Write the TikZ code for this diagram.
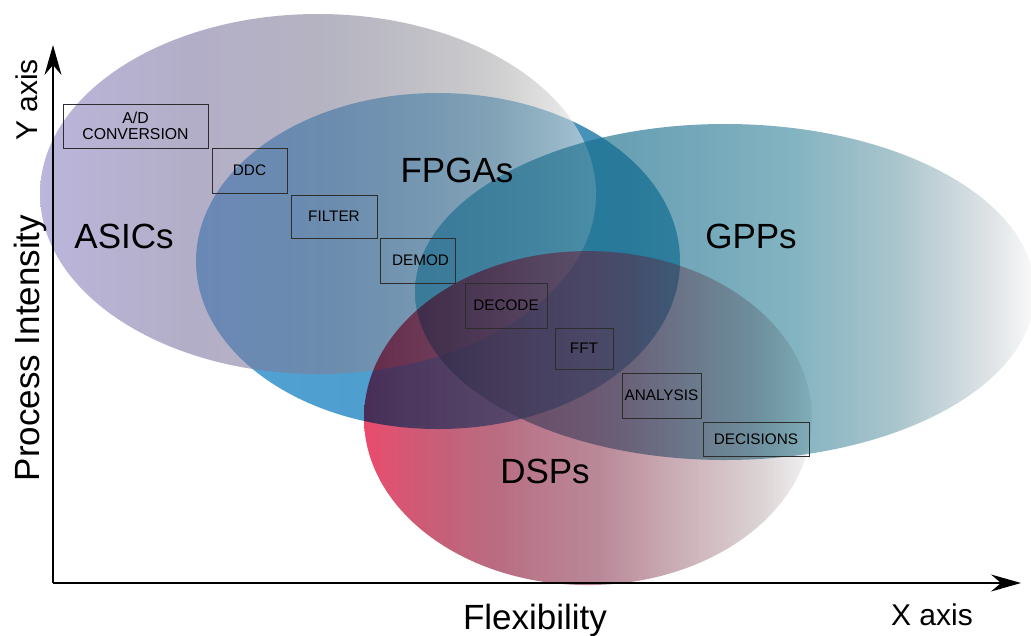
\documentclass[tikz,border=0pt]{standalone}
\usepackage{fontspec}
\setmainfont{Liberation Sans}
\usetikzlibrary{arrows.meta,fadings}

% ---- colour stops of the four technology regions ----
\definecolor{asA}{RGB}{138,130,195}
\definecolor{asB}{RGB}{125,116,160}
\definecolor{asC}{RGB}{128,126,150}
\definecolor{asD}{RGB}{150,150,160}
\definecolor{asE}{RGB}{172,172,174}
\definecolor{asF}{RGB}{205,205,205}
\definecolor{asG}{RGB}{240,240,240}

\definecolor{fpA}{RGB}{82,164,215}
\definecolor{fpB}{RGB}{76,156,202}
\definecolor{fpC}{RGB}{66,140,175}

\definecolor{gpA}{RGB}{28,108,142}
\definecolor{gpB}{RGB}{25,110,140}
\definecolor{gpC}{RGB}{40,120,148}
\definecolor{gpD}{RGB}{65,140,160}
\definecolor{gpE}{RGB}{122,165,177}
\definecolor{gpF}{RGB}{208,214,217}
\definecolor{gpG}{RGB}{248,248,248}

% DSP tint (multiplied) and its deep purple glaze (faded in the middle)
\definecolor{dsA}{RGB}{230,15,60}
\definecolor{dsB}{RGB}{215,80,110}
\definecolor{dsC}{RGB}{225,160,175}
\definecolor{dsD}{RGB}{235,215,220}
\definecolor{dsE}{RGB}{225,215,215}
\definecolor{dsF}{RGB}{215,210,210}
\definecolor{dsG}{RGB}{240,240,240}
\definecolor{dspdeep}{RGB}{120,30,60}

\definecolor{boxline}{RGB}{45,45,45}

% horizontal shadings: 25bp = left edge of the shape, 75bp = right edge
\pgfdeclarehorizontalshading{asicshade}{100bp}{color(0bp)=(asA); color(25bp)=(asA);
  color(38bp)=(asB); color(51bp)=(asC); color(60bp)=(asD); color(66bp)=(asE);
  color(71bp)=(asF); color(75bp)=(asG); color(100bp)=(asG)}
\pgfdeclarehorizontalshading{fpgashade}{100bp}{color(0bp)=(fpA); color(25bp)=(fpA);
  color(50bp)=(fpB); color(75bp)=(fpC); color(100bp)=(fpC)}
\pgfdeclarehorizontalshading{gppshade}{100bp}{color(0bp)=(gpA); color(25bp)=(gpA);
  color(41.5bp)=(gpB); color(47bp)=(gpC); color(55.5bp)=(gpD); color(63.5bp)=(gpE);
  color(71.5bp)=(gpF); color(75bp)=(gpG); color(100bp)=(gpG)}
\pgfdeclarehorizontalshading{dspshade}{100bp}{color(0bp)=(dsA); color(25bp)=(dsA);
  color(34.6bp)=(dsB); color(43.5bp)=(dsC); color(51.3bp)=(dsD); color(60.3bp)=(dsE);
  color(69.2bp)=(dsF); color(75bp)=(dsG); color(100bp)=(dsG)}
% opacity profile of the glaze: white = opaque, black = clear
\pgfdeclarehorizontalshading{dspglazeshade}{100bp}{color(0bp)=(black); color(25bp)=(black);
  color(31.25bp)=(white!20!black); color(40.2bp)=(white!40!black);
  color(51.3bp)=(white!45!black); color(60.3bp)=(white!25!black);
  color(69.2bp)=(white!5!black); color(75bp)=(black); color(100bp)=(black)}
% the fitted part of a fading is its central 50bp square
\pgfdeclarefading{dspglaze}{\tikz{\useasboundingbox (0,0) rectangle (100bp,100bp);
  \fill[black] (0,0) rectangle (100bp,100bp);
  \shade[shading=dspglazeshade] (25bp,25bp) rectangle (75bp,75bp);}}

\begin{document}
\begin{tikzpicture}[x=1pt, y=-1pt,
  procbox/.style={draw=boxline, line width=1pt, inner sep=0pt,
    font=\fontsize{15.3}{16}\selectfont},
  region/.style={font=\fontsize{35}{40}\selectfont, anchor=base, inner sep=0pt},
  axisname/.style={font=\fontsize{30}{34}\selectfont, anchor=base, inner sep=0pt},
  axisline/.style={line width=1.4pt, -{Stealth[length=30pt, width=17pt, inset=10pt]}}]

\useasboundingbox (0,0) rectangle (1031,635);
\fill[white] (0,0) rectangle (1031,635);

% FPGAs
\shade[shading=fpgashade] (438,261) ellipse [x radius=242, y radius=168];
% ASICs, translucent over the FPGA region
\shade[shading=asicshade, fill opacity=0.58] (318,194) ellipse [x radius=278, y radius=180];
% GPPs
\shade[shading=gppshade, fill opacity=0.65] (725,292) ellipse [x radius=310, y radius=168];
% DSPs: a multiplied tint plus a faded purple glaze
\begin{scope}[blend mode=multiply]
  \shade[shading=dspshade, fill opacity=0.75] (588,418) ellipse [x radius=224, y radius=167];
\end{scope}
\fill[dspdeep, path fading=dspglaze, fit fading=true] (588,418) ellipse [x radius=224, y radius=167];

% region names
\node[region] (asics) at (124,248) {ASICs};
\node[region] (fpgas) at (457,182) {FPGAs};
\node[region] (gpps)  at (751,248) {GPPs};
\node[region] (dsps)  at (545,483) {DSPs};

% processing chain
\node[procbox, minimum width=145pt, minimum height=44pt, align=center,
      font=\fontsize{15.8}{16}\selectfont] (ad) at (135.5,126) {A/D\\CONVERSION};
\node[procbox, minimum width=75pt, minimum height=45pt] (ddc) at (249.5,170.5) {DDC};
\node[procbox, minimum width=86pt, minimum height=43pt] (filter) at (334,216.5) {FILTER};
\node[procbox, minimum width=75pt, minimum height=45pt] (demod) at (417.5,260.5) {\hspace{6pt}DEMOD};
\node[procbox, minimum width=82pt, minimum height=45pt] (decode) at (506,305.5) {DECODE};
\node[procbox, minimum width=58pt, minimum height=41pt] (fft) at (584,348.5) {FFT};
\node[procbox, minimum width=79pt, minimum height=45pt] (analysis) at (661.5,395.5) {ANALYSIS};
\node[procbox, minimum width=106pt, minimum height=34pt] (decisions) at (756,439) {DECISIONS};

% axes
\coordinate (origin) at (53,583);
\coordinate (ytip) at (53,45);
\coordinate (xtip) at (1021,583);
\draw[axisline] (origin) -- (ytip);
\draw[axisline] (origin) -- (xtip);

\node[axisname, rotate=90] (ylab) at (37,100) {Y axis};
\node[region, rotate=90] (ptitle) at (39,348) {Process Intensity};
\node[region] (ftitle) at (535,629) {Flexibility};
\node[axisname] (xlab) at (932,625) {X axis};
\end{tikzpicture}
\end{document}
